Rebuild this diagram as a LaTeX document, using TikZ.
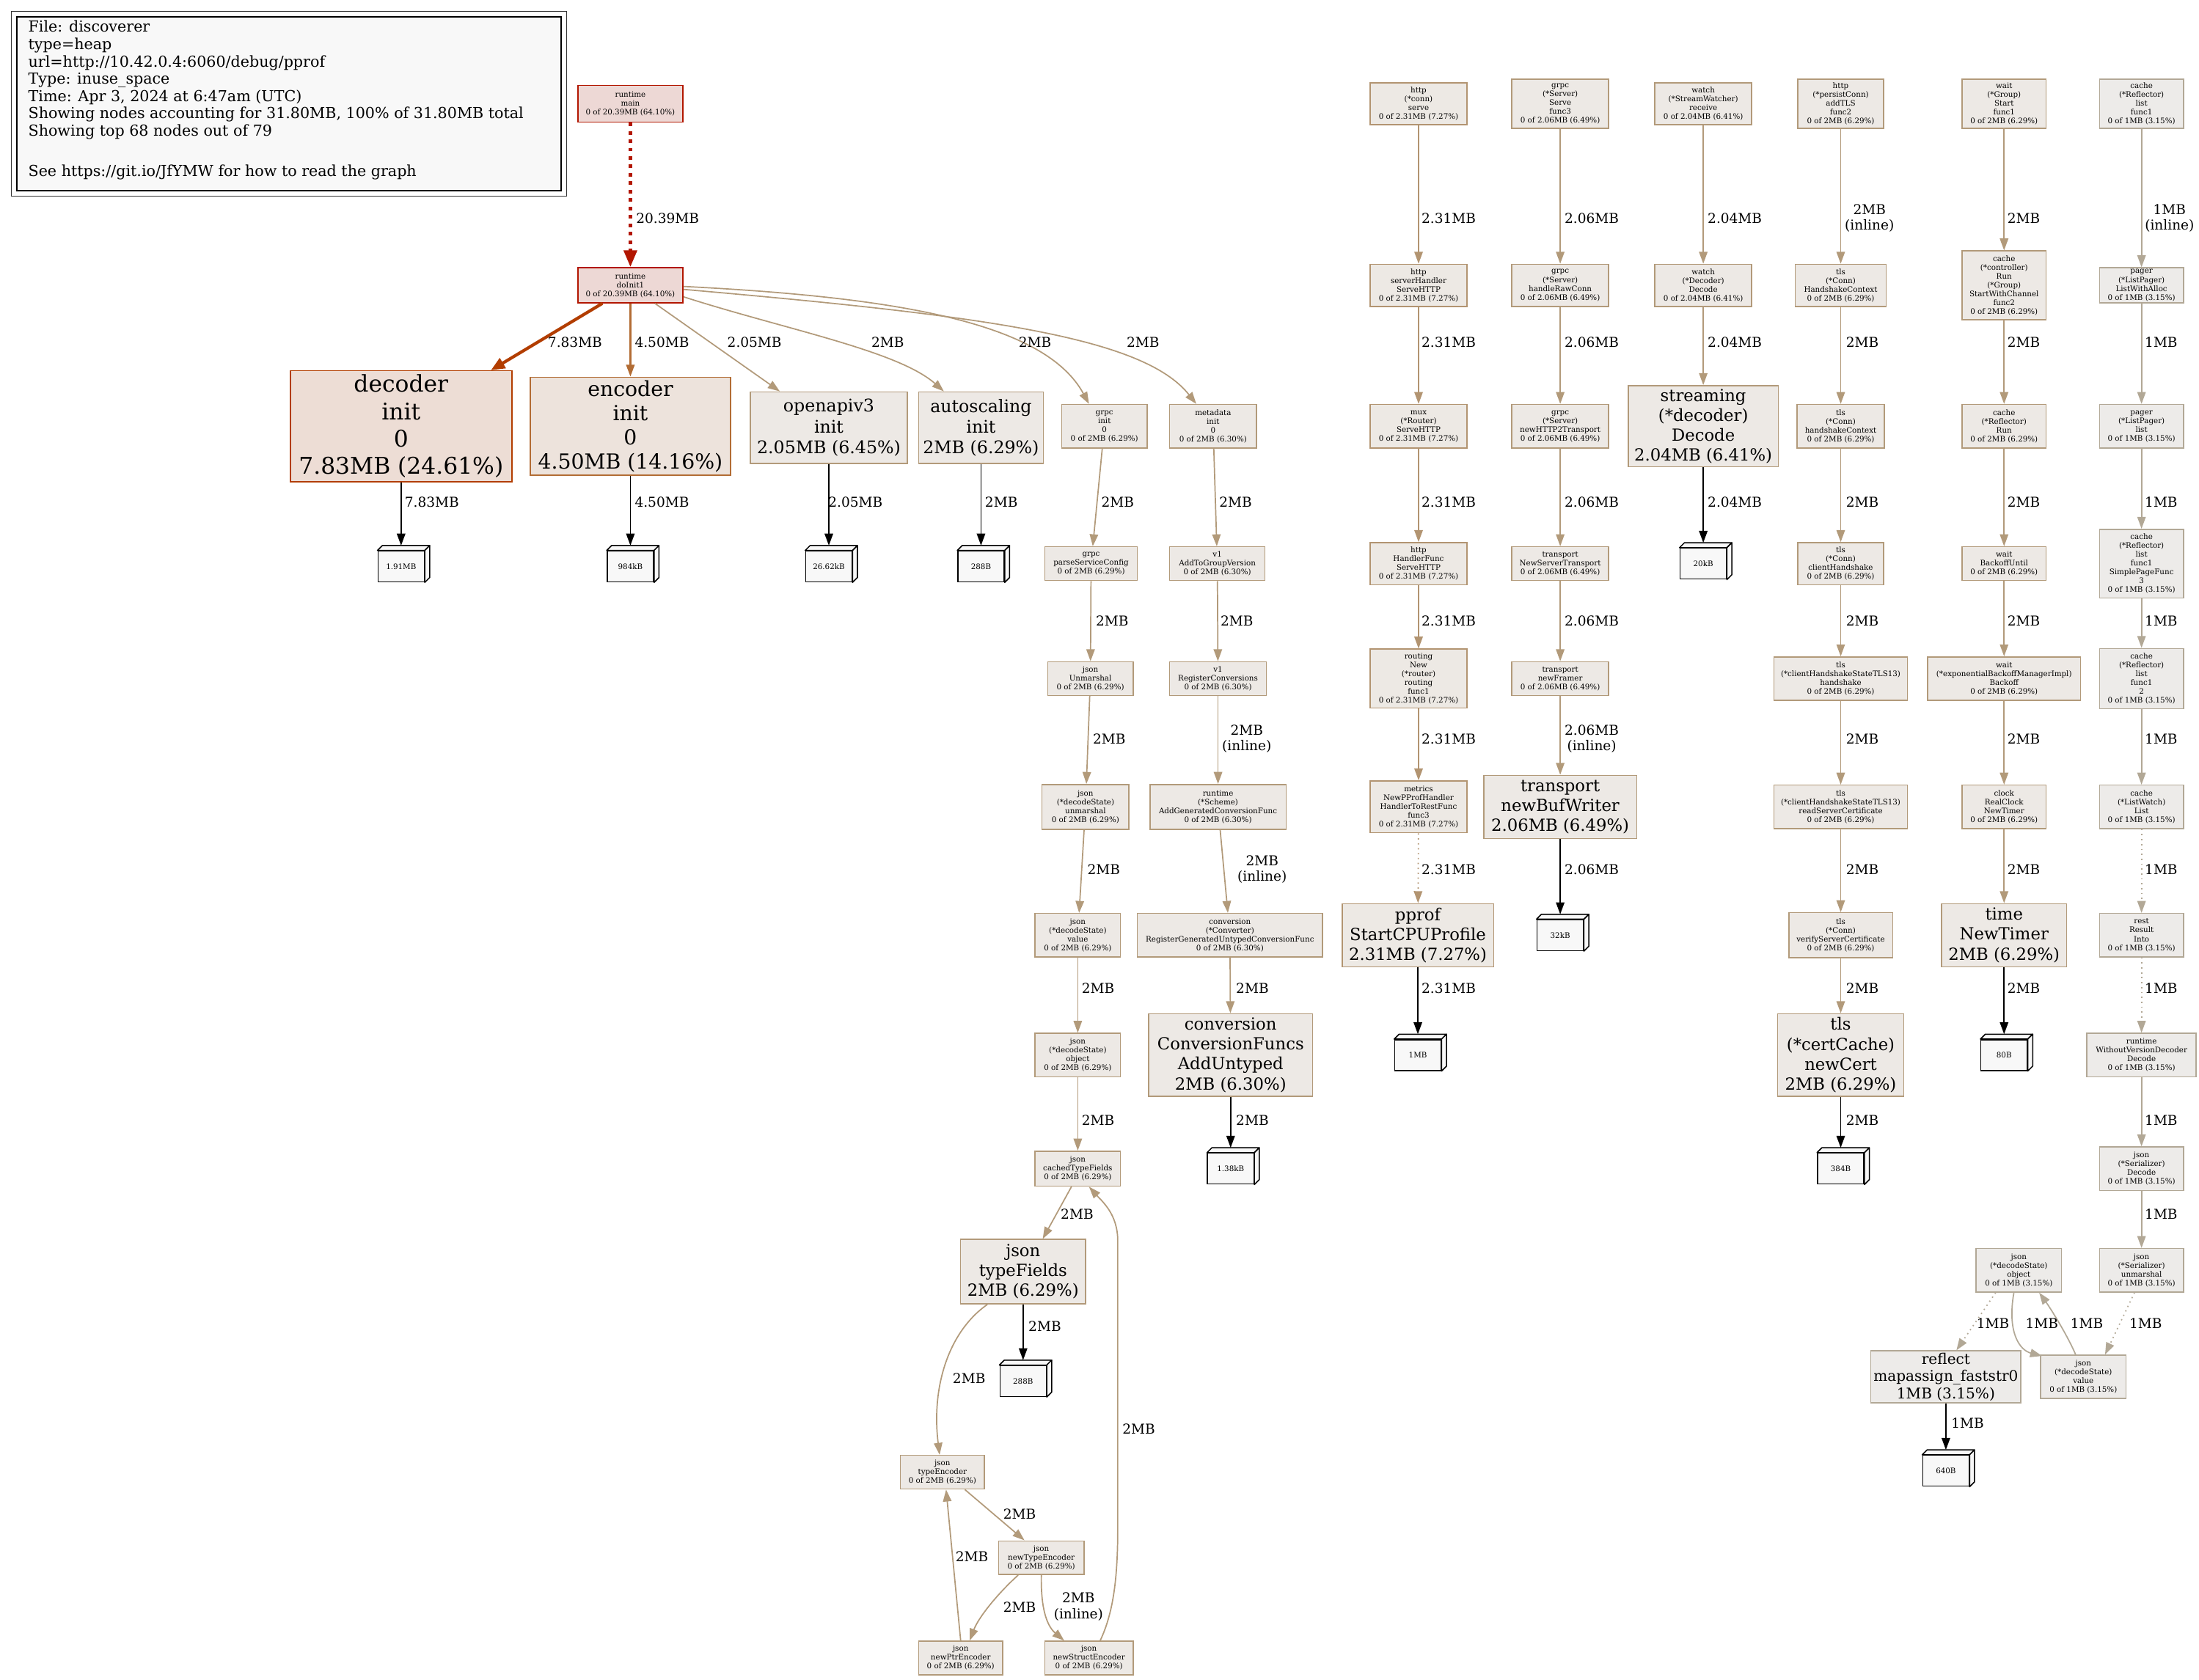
\documentclass[tikz,border=0pt]{standalone}
\usepackage{fontspec}
\setmainfont{DejaVu Serif}
\usetikzlibrary{arrows.meta}
\definecolor{f64}{HTML}{EDD8D5}\definecolor{b64}{HTML}{B21600}
\definecolor{f24}{HTML}{EDDDD5}\definecolor{b24}{HTML}{B23D00}
\definecolor{f14}{HTML}{EDE3DC}\definecolor{b14}{HTML}{B26C34}
\definecolor{f7}{HTML}{EDE9E4}\definecolor{b7}{HTML}{B29471}
\definecolor{f6}{HTML}{EDE9E5}\definecolor{b6}{HTML}{B29A7A}
\definecolor{f3}{HTML}{EDEBE9}\definecolor{b3}{HTML}{B2A896}
\definecolor{leaffill}{HTML}{F8F8F8}
\newcommand\fsz[2]{\fontsize{#1}{#2}\selectfont}
\newcommand\fnode[6]{\node[#1,minimum width=#5pt,minimum height=#6pt] (#2) at (#3,#4)}
\newcommand\leaf[4]{%
  \node[leafst] (#1) at (#2,#3) {#4};
  \path[leafside] (#1.north west) -- ++(3.5,-3.5) -- ([shift={(3.5,-3.5)}]#1.north east) -- (#1.north east) -- cycle;
  \path[leafside] (#1.north east) -- ++(3.5,-3.5) -- ([shift={(3.5,-3.5)}]#1.south east) -- (#1.south east) -- cycle;
}
\tikzset{
  box/.style={draw, rectangle, inner sep=0pt, align=center, line width=0.8pt, text=black},
  sm/.style={box, font=\fsz{5.4}{6.3}},
  big/.style={box, font=\fsz{11.9}{14.2}},
  k64/.style={fill=f64, draw=b64},
  k24/.style={fill=f24, draw=b24},
  k14/.style={fill=f14, draw=b14},
  k7/.style={fill=f7, draw=b7},
  k6/.style={fill=f6, draw=b6},
  k3/.style={fill=f3, draw=b3},
  leafst/.style={draw=black, fill=leaffill, line width=0.8pt, minimum width=33pt, minimum height=22pt, inner sep=0pt, font=\fsz{5.4}{6.3}},
  leafside/.style={draw=black, fill=leaffill, line width=0.8pt, line join=round},
  lab/.style={font=\fsz{9.7}{11.2}, align=center, inner sep=0pt},
  ar/.style={-{Triangle[length=8.5pt,width=6pt]}, line width=0.9pt},
  e6/.style={ar, draw=b6},
  e7/.style={ar, draw=b7},
  e3/.style={ar, draw=b3},
  e14/.style={ar, draw=b14, line width=1.2pt},
  e24/.style={draw=b24, line width=2.2pt, -{Triangle[length=10pt,width=8pt]}},
  e64/.style={draw=b64, line width=2.8pt, dash pattern=on 2.6pt off 3.4pt, -{Triangle[length=12pt,width=9pt]}},
  ek/.style={ar, draw=black},
  dotl/.style={dash pattern=on 0.9pt off 2.6pt},
}
\begin{document}
\begin{tikzpicture}[x=1pt,y=-1pt]
\useasboundingbox (0,0) rectangle (1568,1198);
\fill[white] (0,0) rectangle (1568,1198);
% legend
\node[draw=black!80, line width=0.8pt, minimum width=396pt, minimum height=132pt, inner sep=0pt] (legout) at (206,74) {};
\node[draw=black, fill=leaffill, line width=0.8pt, minimum width=388pt, minimum height=124pt, inner sep=0pt] (legin) at (206,74) {};
\node[anchor=north west, align=left, inner sep=0pt, font=\fsz{10.8}{12.33}] (legtxt) at (20,14.6) {File: discoverer\\type=heap\\url=http://10.42.0.4:6060/debug/pprof\\Type: inuse\_space\\Time: Apr 3, 2024 at 6:47am (UTC)\\Showing nodes accounting for 31.80MB, 100\% of 31.80MB total\\Showing top 68 nodes out of 79\\[16.6pt]See https://git.io/JfYMW for how to read the graph};
% ---------- nodes: left tree
\fnode{sm,k64}{rm}{449.5}{74}{75}{26}{runtime\\main\\0 of 20.39MB (64.10\%)};
\fnode{sm,k64}{di}{449.5}{203.5}{75}{25}{runtime\\doInit1\\0 of 20.39MB (64.10\%)};
\fnode{box,k24,font=\fsz{16.4}{19.5}}{dec}{286}{304}{158}{79}{decoder\\init\\0\\7.83MB (24.61\%)};
\fnode{box,k14,font=\fsz{14.8}{17.3}}{enc}{449.5}{304}{143}{70}{encoder\\init\\0\\4.50MB (14.16\%)};
\fnode{box,k6,font=\fsz{12.4}{14.8}}{oa}{591}{305}{112}{51}{openapiv3\\init\\2.05MB (6.45\%)};
\fnode{box,k6,font=\fsz{12.4}{14.8}}{as}{699.5}{305}{89}{51}{autoscaling\\init\\2MB (6.29\%)};
\fnode{sm,k6}{gi}{787.5}{304}{61}{31}{grpc\\init\\0\\0 of 2MB (6.29\%)};
\fnode{sm,k6}{mi}{865}{304}{62}{31}{metadata\\init\\0\\0 of 2MB (6.30\%)};
\leaf{L1}{286}{404}{1.91MB}
\leaf{L2}{449.5}{404}{984kB}
\leaf{L3}{591}{404}{26.62kB}
\leaf{L4}{699.5}{404}{288B}
% grpc json column
\fnode{sm,k6}{psc}{778}{402}{66}{24}{grpc\\parseServiceConfig\\0 of 2MB (6.29\%)};
\fnode{sm,k6}{ju}{777.5}{484}{61}{24}{json\\Unmarshal\\0 of 2MB (6.29\%)};
\fnode{sm,k6}{dsu}{774}{575.5}{62}{32}{json\\(*decodeState)\\unmarshal\\0 of 2MB (6.29\%)};
\fnode{sm,k6}{dsv}{768.5}{667}{61}{31}{json\\(*decodeState)\\value\\0 of 2MB (6.29\%)};
\fnode{sm,k6}{dso}{768.5}{752.5}{61}{31}{json\\(*decodeState)\\object\\0 of 2MB (6.29\%)};
\fnode{sm,k6}{ctf}{768.5}{833.5}{61}{25}{json\\cachedTypeFields\\0 of 2MB (6.29\%)};
\fnode{big,k6}{tf}{729.5}{907}{89}{46}{json\\typeFields\\2MB (6.29\%)};
\leaf{L5}{729.5}{985}{288B}
\fnode{sm,k6}{te}{672}{1050}{60}{24}{json\\typeEncoder\\0 of 2MB (6.29\%)};
\fnode{sm,k6}{nte}{742.5}{1111}{61}{24}{json\\newTypeEncoder\\0 of 2MB (6.29\%)};
\fnode{sm,k6}{npe}{685}{1182.5}{60}{24}{json\\newPtrEncoder\\0 of 2MB (6.29\%)};
\fnode{sm,k6}{nse}{776.5}{1182.5}{63}{24}{json\\newStructEncoder\\0 of 2MB (6.29\%)};
% metadata column
\fnode{sm,k6}{agv}{868}{402}{68}{24}{v1\\AddToGroupVersion\\0 of 2MB (6.30\%)};
\fnode{sm,k6}{rc}{868.5}{484}{69}{24}{v1\\RegisterConversions\\0 of 2MB (6.30\%)};
\fnode{sm,k6}{agc}{868.5}{575.5}{97}{32}{runtime\\(*Scheme)\\AddGeneratedConversionFunc\\0 of 2MB (6.30\%)};
\fnode{sm,k6}{rgu}{877}{667}{132}{31}{conversion\\(*Converter)\\RegisterGeneratedUntypedConversionFunc\\0 of 2MB (6.30\%)};
\fnode{big,k6}{cfa}{877.5}{752.5}{117}{59}{conversion\\ConversionFuncs\\AddUntyped\\2MB (6.30\%)};
\leaf{L6}{877.5}{833.5}{1.38kB}
% http column
\fnode{sm,k7}{hs}{1011.5}{74}{69}{30}{http\\(*conn)\\serve\\0 of 2.31MB (7.27\%)};
\fnode{sm,k7}{sh}{1011.5}{203.5}{69}{30}{http\\serverHandler\\ServeHTTP\\0 of 2.31MB (7.27\%)};
\fnode{sm,k7}{mr}{1011.5}{304}{69}{31}{mux\\(*Router)\\ServeHTTP\\0 of 2.31MB (7.27\%)};
\fnode{sm,k7}{hf}{1011.5}{402}{69}{30}{http\\HandlerFunc\\ServeHTTP\\0 of 2.31MB (7.27\%)};
\fnode{sm,k7}{rn}{1011.5}{484}{69}{42}{routing\\New\\(*router)\\routing\\func1\\0 of 2.31MB (7.27\%)};
\fnode{sm,k7}{mp}{1011.5}{575.5}{69}{37}{metrics\\NewPProfHandler\\HandlerToRestFunc\\func3\\0 of 2.31MB (7.27\%)};
\fnode{big,k7}{pp}{1011}{667}{108}{45}{pprof\\StartCPUProfile\\2.31MB (7.27\%)};
\leaf{L7}{1011}{752.5}{1MB}
% grpc server column
\fnode{sm,k6}{gs}{1112.5}{74}{69}{35}{grpc\\(*Server)\\Serve\\func3\\0 of 2.06MB (6.49\%)};
\fnode{sm,k6}{hrc}{1112.5}{203.5}{69}{30}{grpc\\(*Server)\\handleRawConn\\0 of 2.06MB (6.49\%)};
\fnode{sm,k6}{nht}{1112.5}{304}{69}{31}{grpc\\(*Server)\\newHTTP2Transport\\0 of 2.06MB (6.49\%)};
\fnode{sm,k6}{nst}{1112.5}{402}{69}{24}{transport\\NewServerTransport\\0 of 2.06MB (6.49\%)};
\fnode{sm,k6}{nf}{1112.5}{484}{69}{24}{transport\\newFramer\\0 of 2.06MB (6.49\%)};
\fnode{big,k6}{nbw}{1112.5}{575.5}{109}{45}{transport\\newBufWriter\\2.06MB (6.49\%)};
\leaf{L8}{1112.5}{667}{32kB}
% watch column
\fnode{sm,k6}{sw}{1214.5}{74}{69}{30}{watch\\(*StreamWatcher)\\receive\\0 of 2.04MB (6.41\%)};
\fnode{sm,k6}{wd}{1214.5}{203.5}{69}{30}{watch\\(*Decoder)\\Decode\\0 of 2.04MB (6.41\%)};
\fnode{big,k6}{sd}{1214.5}{304}{107}{58}{streaming\\(*decoder)\\Decode\\2.04MB (6.41\%)};
\leaf{L9}{1214.5}{402}{20kB}
% tls column
\fnode{sm,k6}{pc}{1312.5}{74}{61}{35}{http\\(*persistConn)\\addTLS\\func2\\0 of 2MB (6.29\%)};
\fnode{sm,k6}{thc}{1312.5}{203.5}{65}{30}{tls\\(*Conn)\\HandshakeContext\\0 of 2MB (6.29\%)};
\fnode{sm,k6}{thb}{1312.5}{304}{62}{31}{tls\\(*Conn)\\handshakeContext\\0 of 2MB (6.29\%)};
\fnode{sm,k6}{tch}{1312.5}{402}{61}{30}{tls\\(*Conn)\\clientHandshake\\0 of 2MB (6.29\%)};
\fnode{sm,k6}{ths}{1312.5}{484}{95}{31}{tls\\(*clientHandshakeStateTLS13)\\handshake\\0 of 2MB (6.29\%)};
\fnode{sm,k6}{trs}{1312.5}{575.5}{95}{31}{tls\\(*clientHandshakeStateTLS13)\\readServerCertificate\\0 of 2MB (6.29\%)};
\fnode{sm,k6}{tvs}{1312.5}{667}{74}{32}{tls\\(*Conn)\\verifyServerCertificate\\0 of 2MB (6.29\%)};
\fnode{big,k6}{tnc}{1312.5}{752.5}{90}{59}{tls\\(*certCache)\\newCert\\2MB (6.29\%)};
\leaf{L10}{1312.5}{833.5}{384B}
% wait column
\fnode{sm,k6}{wg}{1429}{74}{60}{35}{wait\\(*Group)\\Start\\func1\\0 of 2MB (6.29\%)};
\fnode{sm,k6}{cr}{1429}{203.5}{60}{49}{cache\\(*controller)\\Run\\(*Group)\\StartWithChannel\\func2\\0 of 2MB (6.29\%)};
\fnode{sm,k6}{rr}{1429}{304}{60}{31}{cache\\(*Reflector)\\Run\\0 of 2MB (6.29\%)};
\fnode{sm,k6}{bu}{1429}{402}{60}{24}{wait\\BackoffUntil\\0 of 2MB (6.29\%)};
\fnode{sm,k6}{eb}{1429}{484}{109}{31}{wait\\(*exponentialBackoffManagerImpl)\\Backoff\\0 of 2MB (6.29\%)};
\fnode{sm,k6}{rcn}{1429}{575.5}{60}{31}{clock\\RealClock\\NewTimer\\0 of 2MB (6.29\%)};
\fnode{big,k6}{tnt}{1429}{667}{89}{45}{time\\NewTimer\\2MB (6.29\%)};
\leaf{L11}{1429}{752.5}{80B}
% cache column
\fnode{sm,k3}{rl}{1527}{74}{60}{35}{cache\\(*Reflector)\\list\\func1\\0 of 1MB (3.15\%)};
\fnode{sm,k3}{lwa}{1527}{203.5}{60}{25}{pager\\(*ListPager)\\ListWithAlloc\\0 of 1MB (3.15\%)};
\fnode{sm,k3}{pl}{1527}{304}{60}{31}{pager\\(*ListPager)\\list\\0 of 1MB (3.15\%)};
\fnode{sm,k3}{spf}{1527}{402}{60}{49}{cache\\(*Reflector)\\list\\func1\\SimplePageFunc\\3\\0 of 1MB (3.15\%)};
\fnode{sm,k3}{rlb}{1527}{484}{60}{43}{cache\\(*Reflector)\\list\\func1\\2\\0 of 1MB (3.15\%)};
\fnode{sm,k3}{lw}{1527}{575.5}{60}{31}{cache\\(*ListWatch)\\List\\0 of 1MB (3.15\%)};
\fnode{sm,k3}{ri}{1527}{667}{60}{31}{rest\\Result\\Into\\0 of 1MB (3.15\%)};
\fnode{sm,k3}{wvd}{1527}{752.5}{78}{31}{runtime\\WithoutVersionDecoder\\Decode\\0 of 1MB (3.15\%)};
\fnode{sm,k3}{sde}{1527}{833.5}{60}{31}{json\\(*Serializer)\\Decode\\0 of 1MB (3.15\%)};
\fnode{sm,k3}{su}{1527}{906}{60}{31}{json\\(*Serializer)\\unmarshal\\0 of 1MB (3.15\%)};
\fnode{sm,k3}{ob}{1439.5}{906}{61}{31}{json\\(*decodeState)\\object\\0 of 1MB (3.15\%)};
\fnode{sm,k3}{va}{1485.5}{982}{61}{31}{json\\(*decodeState)\\value\\0 of 1MB (3.15\%)};
\fnode{box,k3,font=\fsz{10.5}{12.3}}{rf}{1387.5}{982}{107}{37}{reflect\\mapassign\_faststr0\\1MB (3.15\%)};
\leaf{L12}{1387.5}{1049}{640B}
% ---------- edges
\draw[e64] (rm) -- (di);
\draw[e24] ([xshift=-20pt]di.south) -- ([xshift=64pt]dec.north);
\draw[e14] (di) -- (enc);
\draw[e6] ([xshift=17.5pt]di.south) -- ([xshift=-35pt]oa.north);
\draw[e6] ([yshift=-8.2pt]di.east) .. controls (560,235) and (640,250) .. ([xshift=-26.5pt]as.north);
\draw[e6] ([yshift=-0.8pt]di.east) .. controls (640,212) and (745,230) .. ([xshift=-11pt]gi.north);
\draw[e6] ([yshift=-2.9pt]di.east) .. controls (700,225) and (815,240) .. ([xshift=-12pt]mi.north);
\draw[ek] (dec) -- ([yshift=3.5pt]L1.north);
\draw[ek] (enc) -- ([yshift=3.5pt]L2.north);
\draw[ek] (oa) -- ([yshift=3.5pt]L3.north);
\draw[ek] (as) -- ([yshift=3.5pt]L4.north);
% grpc json
\draw[e6] (gi) -- (psc);
\draw[e6] (psc) -- (ju);
\draw[e6] (ju) -- (dsu);
\draw[e6] (dsu) -- (dsv);
\draw[e6] (dsv) -- (dso);
\draw[e6] (dso) -- (ctf);
\draw[e6] ([xshift=-4.5pt]ctf.south) -- ([xshift=14pt]tf.north);
\draw[ek] (tf) -- ([yshift=3.5pt]L5.north);
\draw[e6] ([xshift=-25.5pt]tf.south) .. controls (676,950) and (664,990) .. ([xshift=-2pt]te.north);
\draw[e6] ([xshift=16pt]te.south) -- ([xshift=-12pt]nte.north);
\draw[e6] ([xshift=-16.5pt]nte.south) .. controls (712,1136) and (698,1153) .. ([xshift=6.4pt]npe.north);
\draw[e6] (nte.south) .. controls (742,1151) and (748,1161) .. ([xshift=-17.7pt]nse.north);
\draw[e6] (npe.north) -- ([xshift=2.6pt]te.south);
\draw[e6] ([xshift=8pt]nse.north) .. controls (794,1150) and (797,1125) .. (797,1090) -- (797,885) .. controls (797,866) and (786,857) .. ([xshift=8pt]ctf.south);
% metadata
\draw[e6] (mi) -- (agv);
\draw[e6] (agv) -- (rc);
\draw[e6] (rc) -- (agc);
\draw[e6] (agc) -- (rgu);
\draw[e6] (rgu) -- (cfa);
\draw[ek] (cfa) -- ([yshift=3.5pt]L6.north);
% http
\draw[e7] (hs) -- (sh);
\draw[e7] (sh) -- (mr);
\draw[e7] (mr) -- (hf);
\draw[e7] (hf) -- (rn);
\draw[e7] (rn) -- (mp);
\draw[e7,dotl] (mp) -- (pp);
\draw[ek] (pp) -- ([yshift=3.5pt]L7.north);
% grpc server
\draw[e6] (gs) -- (hrc);
\draw[e6] (hrc) -- (nht);
\draw[e6] (nht) -- (nst);
\draw[e6] (nst) -- (nf);
\draw[e6] (nf) -- (nbw);
\draw[ek] (nbw) -- ([yshift=3.5pt]L8.north);
% watch
\draw[e6] (sw) -- (wd);
\draw[e6] (wd) -- (sd);
\draw[ek] (sd) -- ([yshift=3.5pt]L9.north);
% tls
\draw[e6] (pc) -- (thc);
\draw[e6] (thc) -- (thb);
\draw[e6] (thb) -- (tch);
\draw[e6] (tch) -- (ths);
\draw[e6] (ths) -- (trs);
\draw[e6] (trs) -- (tvs);
\draw[e6] (tvs) -- (tnc);
\draw[ek] (tnc) -- ([yshift=3.5pt]L10.north);
% wait
\draw[e6] (wg) -- (cr);
\draw[e6] (cr) -- (rr);
\draw[e6] (rr) -- (bu);
\draw[e6] (bu) -- (eb);
\draw[e6] (eb) -- (rcn);
\draw[e6] (rcn) -- (tnt);
\draw[ek] (tnt) -- ([yshift=3.5pt]L11.north);
% cache
\draw[e3] (rl) -- (lwa);
\draw[e3] (lwa) -- (pl);
\draw[e3] (pl) -- (spf);
\draw[e3] (spf) -- (rlb);
\draw[e3] (rlb) -- (lw);
\draw[e3,dotl] (lw) -- (ri);
\draw[e3,dotl] (ri) -- (wvd);
\draw[e3] (wvd) -- (sde);
\draw[e3] (sde) -- (su);
\draw[e3,dotl] ([xshift=-5pt]su.south) -- ([xshift=15.5pt]va.north);
\draw[e3] ([xshift=-3.5pt]ob.south) .. controls (1431,950) and (1440,963) .. ([xshift=1.5pt,yshift=-1pt]va.north west);
\draw[e3] ([xshift=-5.5pt]va.north) .. controls (1474,952) and (1462,933) .. ([xshift=14.5pt]ob.south);
\draw[e3,dotl] ([xshift=-16.5pt]ob.south) -- ([xshift=7.5pt]rf.north);
\draw[ek] (rf) -- ([yshift=3.5pt]L12.north);
% ---------- edge labels
\node[lab] (a01) at (476,155.5) {20.39MB};
\node[lab] (a02) at (410,244) {7.83MB};
\node[lab] (a03) at (472,244) {4.50MB};
\node[lab] (a04) at (538,244) {2.05MB};
\node[lab] (a05) at (633,244) {2MB};
\node[lab] (a06) at (738,244) {2MB};
\node[lab] (a07) at (815,244) {2MB};
\node[lab] (a08) at (308,358) {7.83MB};
\node[lab] (a09) at (472,358) {4.50MB};
\node[lab] (a10) at (610,358) {2.05MB};
\node[lab] (a11) at (714,358) {2MB};
\node[lab] (a12) at (797,358) {2MB};
\node[lab] (a13) at (793,443) {2MB};
\node[lab] (a14) at (791,527) {2MB};
\node[lab] (a15) at (787,620) {2MB};
\node[lab] (a16) at (783,705) {2MB};
\node[lab] (a17) at (783,799) {2MB};
\node[lab] (a18) at (768,866) {2MB};
\node[lab] (a19) at (745,946) {2MB};
\node[lab] (a20) at (691,983) {2MB};
\node[lab] (a21) at (727,1080) {2MB};
\node[lab] (a22) at (727,1146) {2MB};
\node[lab] (a23) at (769,1146) {2MB\\(inline)};
\node[lab] (a24) at (693,1110) {2MB};
\node[lab] (a25) at (812,1019) {2MB};
\node[lab] (a26) at (881,358) {2MB};
\node[lab] (a27) at (882,443) {2MB};
\node[lab] (a28) at (889,527) {2MB\\(inline)};
\node[lab] (a29) at (900,620) {2MB\\(inline)};
\node[lab] (a30) at (893,705) {2MB};
\node[lab] (a31) at (893,799) {2MB};
\node[lab] (b01) at (1033,155.5) {2.31MB};
\node[lab] (b02) at (1033,244) {2.31MB};
\node[lab] (b03) at (1033,358) {2.31MB};
\node[lab] (b04) at (1033,443) {2.31MB};
\node[lab] (b05) at (1033,527) {2.31MB};
\node[lab] (b06) at (1033,620) {2.31MB};
\node[lab] (b07) at (1033,705) {2.31MB};
\node[lab] (c01) at (1135,155.5) {2.06MB};
\node[lab] (c02) at (1135,244) {2.06MB};
\node[lab] (c03) at (1135,358) {2.06MB};
\node[lab] (c04) at (1135,443) {2.06MB};
\node[lab] (c05) at (1135,527) {2.06MB\\(inline)};
\node[lab] (c06) at (1135,620) {2.06MB};
\node[lab] (d01) at (1237,155.5) {2.04MB};
\node[lab] (d02) at (1237,244) {2.04MB};
\node[lab] (d03) at (1237,358) {2.04MB};
\node[lab] (f01) at (1333,155.5) {2MB\\(inline)};
\node[lab] (f02) at (1328,244) {2MB};
\node[lab] (f03) at (1328,358) {2MB};
\node[lab] (f04) at (1328,443) {2MB};
\node[lab] (f05) at (1328,527) {2MB};
\node[lab] (f06) at (1328,620) {2MB};
\node[lab] (f07) at (1328,705) {2MB};
\node[lab] (f08) at (1328,799) {2MB};
\node[lab] (g01) at (1443,155.5) {2MB};
\node[lab] (g02) at (1443,244) {2MB};
\node[lab] (g03) at (1443,358) {2MB};
\node[lab] (g04) at (1443,443) {2MB};
\node[lab] (g05) at (1443,527) {2MB};
\node[lab] (g06) at (1443,620) {2MB};
\node[lab] (g07) at (1443,705) {2MB};
\node[lab] (h01) at (1547,155.5) {1MB\\(inline)};
\node[lab] (h02) at (1541,244) {1MB};
\node[lab] (h03) at (1541,358) {1MB};
\node[lab] (h04) at (1541,443) {1MB};
\node[lab] (h05) at (1541,527) {1MB};
\node[lab] (h06) at (1541,620) {1MB};
\node[lab] (h07) at (1541,705) {1MB};
\node[lab] (h08) at (1541,799) {1MB};
\node[lab] (h09) at (1541,866) {1MB};
\node[lab] (h10) at (1421,944) {1MB};
\node[lab] (h11) at (1456,944) {1MB};
\node[lab] (h12) at (1488,944) {1MB};
\node[lab] (h13) at (1530,944) {1MB};
\node[lab] (h14) at (1403,1015) {1MB};
\end{tikzpicture}
\end{document}
